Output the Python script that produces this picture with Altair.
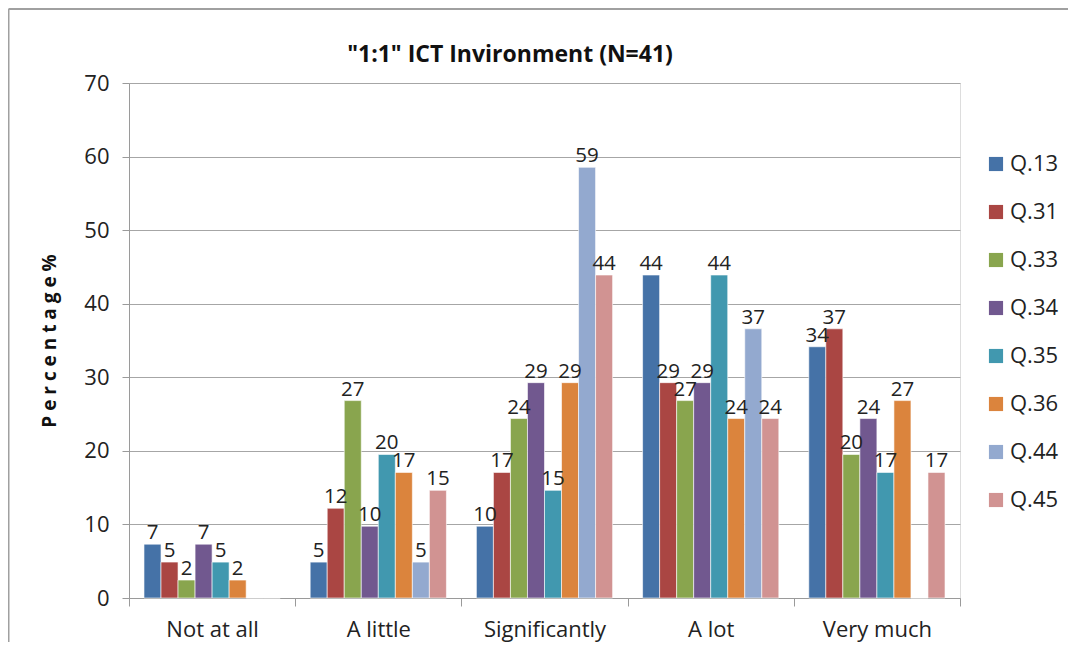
import altair as alt
import pandas as pd

categories = ["Not at all", "A little", "Significantly", "A lot", "Very much"]
series = ["Q.13", "Q.31", "Q.33", "Q.34", "Q.35", "Q.36", "Q.44", "Q.45"]
colors = ["#4572A7", "#AA4643", "#89A54E", "#71588F", "#4198AF", "#DB843D", "#93A9CF", "#D19392"]

q13 = [7.32, 4.88, 9.76, 43.90, 34.15]
q31 = [4.88, 12.20, 17.07, 29.27, 36.59]
q33 = [2.44, 26.83, 24.39, 26.83, 19.51]
q34 = [7.32, 9.76, 29.27, 29.27, 24.39]
q35 = [4.88, 19.51, 14.63, 43.90, 17.07]
q36 = [2.44, 17.07, 29.27, 24.39, 26.83]
q44 = [0.0, 4.88, 58.54, 36.59, 0.0]
q45 = [0.0, 14.63, 43.90, 24.39, 17.07]

title_text = '"1:1" ICT Invironment (N=41)'

values = [q13, q31, q33, q34, q35, q36, q44, q45]
rows = []
for s, vals in zip(series, values):
    for c, v in zip(categories, vals):
        rows.append({"cat": c, "series": s, "value": v, "label": str(int(round(v)))})
df = pd.DataFrame(rows)

FONT = "Open Sans"
W, H = 831, 515
FS = 22

x = alt.X("cat:N", sort=categories, title=None,
          scale=alt.Scale(paddingInner=0, paddingOuter=0),
          axis=alt.Axis(labelAngle=0, labelFontSize=FS, labelColor="#222222", labelFont=FONT,
                        tickBand="extent", tickSize=8, tickColor="#9a9a9a", domainColor="#9a9a9a",
                        labelPadding=13, grid=False))
xoff = alt.XOffset("series:N", sort=series, scale=alt.Scale(paddingInner=0, paddingOuter=0.88))
y = alt.Y("value:Q", title="P e r c e n t a g e %",
          scale=alt.Scale(domain=[0, 70], nice=False),
          axis=alt.Axis(values=list(range(0, 80, 10)), labelFontSize=FS, labelColor="#222222",
                        labelFont=FONT, tickSize=7, tickColor="#9a9a9a", domainColor="#9a9a9a",
                        gridColor="#a6a6a6", titleFontSize=19, titleFont=FONT, titleFontWeight="bold",
                        titleColor="#111111", titlePadding=24, labelPadding=13))
color = alt.Color("series:N", sort=series, scale=alt.Scale(domain=series, range=colors),
                  legend=alt.Legend(title=None, orient="none", legendX=856, legendY=70,
                                    symbolType="square", symbolSize=200, symbolStrokeWidth=0,
                                    labelFontSize=FS, labelFont=FONT, labelColor="#222222",
                                    rowPadding=26, labelOffset=3))

bars = alt.Chart(df).mark_bar(stroke="white", strokeWidth=0.6).encode(x=x, xOffset=xoff, y=y, color=color)
labels = alt.Chart(df).transform_filter("datum.value > 0").mark_text(
    baseline="bottom", dy=-1, fontSize=20.5, font=FONT, color="#222222"
).encode(x=x, xOffset=xoff, y=y, text="label:N")

frame_df = pd.DataFrame({"k": [0]})
left_border = alt.Chart(frame_df).mark_rule(color="#a0a0a0", strokeWidth=2).encode(
    x=alt.value(-120.5), y=alt.value(-74), y2=alt.value(H + 60))
top_border = alt.Chart(frame_df).mark_rule(color="#a0a0a0", strokeWidth=2).encode(
    x=alt.value(-120.5), x2=alt.value(W + 120), y=alt.value(-74))
title_df = pd.DataFrame({"t": [title_text]})
title = alt.Chart(title_df).mark_text(fontSize=23, font=FONT, fontWeight="bold", color="#111111",
                                      baseline="middle", align="center").encode(
    x=alt.value(381), y=alt.value(-28), text="t:N")

chart = alt.layer(bars, labels, left_border, top_border, title).properties(
    width=W, height=H,
    autosize=alt.AutoSizeParams(type="none"),
    padding={"left": 121, "top": 75, "right": 108, "bottom": 44},
).configure_view(stroke=None).configure(background="white")

chart.save("out.html", embed_options={"renderer": "svg", "actions": False})
